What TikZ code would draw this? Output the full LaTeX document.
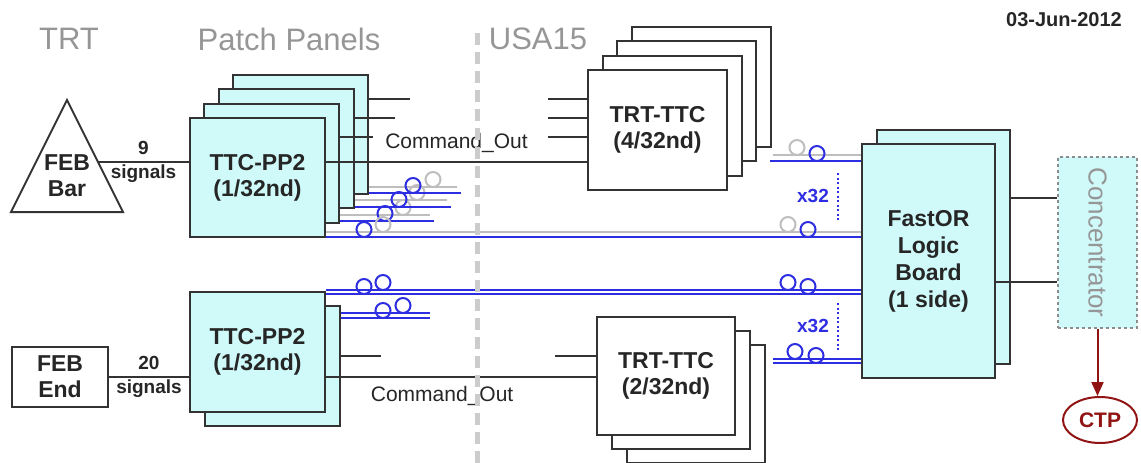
\documentclass[tikz,border=0pt]{standalone}
\usepackage{fontspec}
\setmainfont{Liberation Sans}
\usetikzlibrary{arrows.meta, calc, shapes.geometric}

\definecolor{panelcyan}{RGB}{208,250,250}
\definecolor{fibreblue}{RGB}{45,45,225}
\definecolor{fibregray}{RGB}{190,190,190}
\definecolor{headgray}{RGB}{150,150,150}
\definecolor{ctpred}{RGB}{145,20,20}

% a small fibre coil sitting on a fibre line
\newcommand{\coil}[3]{\draw[#1] (#2,#3-7.5) circle[radius=7.5];}

\begin{document}
\begin{tikzpicture}[x=1pt, y=-1pt,
		box/.style={draw=black!80, line width=2pt, inner sep=0pt, align=center, text=black!85,
			font=\fontsize{23}{26}\selectfont\bfseries},
		ppbox/.style={box, fill=panelcyan},
		ttcbox/.style={box, fill=white},
		wire/.style={black!80, line width=2pt},
		fibreb/.style={fibreblue, line width=2pt},
		fibreg/.style={fibregray, line width=2pt},
		heading/.style={text=headgray, font=\fontsize{31}{34}\selectfont},
		cmd/.style={text=black!85, font=\fontsize{21}{24}\selectfont},
		sig/.style={align=center, text=black!85, font=\fontsize{19}{24}\selectfont\bfseries},
		count/.style={text=fibreblue, font=\fontsize{19}{22}\selectfont\bfseries},
		countline/.style={fibreblue, line width=2pt, dash pattern=on 2pt off 2.5pt},
		sepline/.style={black!20, line width=5pt, dash pattern=on 12pt off 7pt}
		]
		\useasboundingbox (0,0) rectangle (1141,463);
		
		% ==========================================
		% 1. HEADINGS
		% ==========================================
		\node[heading] (trt) at (69,39) {TRT};
		\node[heading] (patch) at (289,39) {Patch Panels};
		\node[heading] (usa) at (538,39) {USA15};
		\node[text=black!85, font=\fontsize{20}{22}\selectfont\bfseries] (date) at (1064,20) {03-Jun-2012};
		
		% ==========================================
		% 2. UPPER CHAIN (FEB Bar)
		% ==========================================
		\draw[wire, fill=white] (67,100) -- (123,212) -- (11,212) -- cycle;
		\node[box, draw=none] (febbar) at (67,176) {FEB\\Bar};
		\coordinate (febbar-out) at (98,162);
		
		% patch panel stack, back boxes first
		\foreach \k in {3,2,1}
		\node[ppbox, minimum width=135pt, minimum height=119pt] (pp1-\k) at (257.5+14.3*\k,177.5-14.3*\k) {};
		\node[ppbox, minimum width=135pt, minimum height=119pt] (pp1) at (257.5,177.5) {TTC-PP2\\(1/32nd)};
		
		% TRT-TTC stack in USA15
		\foreach \k in {3,2,1}
		\node[ttcbox, minimum width=139pt, minimum height=120pt] (ttc1-\k) at (657.5+14.5*\k,130-14.5*\k) {};
		\node[ttcbox, minimum width=139pt, minimum height=120pt] (ttc1) at (657.5,130) {TRT-TTC\\(4/32nd)};
		
		% ==========================================
		% 3. LOWER CHAIN (FEB End)
		% ==========================================
		\node[ttcbox, minimum width=96pt, minimum height=60pt] (febend) at (60,377) {FEB\\End};
		
		\node[ppbox, minimum width=135pt, minimum height=120pt] (pp2-1) at (272.5,366) {};
		\node[ppbox, minimum width=135pt, minimum height=120pt] (pp2) at (257.5,352) {TTC-PP2\\(1/32nd)};
		
		\foreach \k in {2,1}
		\node[ttcbox, minimum width=138pt, minimum height=118pt] (ttc2-\k) at (666+15*\k,376+14*\k) {};
		\node[ttcbox, minimum width=138pt, minimum height=118pt] (ttc2) at (666,376) {TRT-TTC\\(2/32nd)};
		
		% ==========================================
		% 4. FASTOR BOARD, CONCENTRATOR, CTP
		% ==========================================
		\node[ppbox, minimum width=133pt, minimum height=234pt] (fastor-1) at (943.5,247) {};
		\node[ppbox, minimum width=133pt, minimum height=234pt, font=\fontsize{23}{27}\selectfont\bfseries]
		(fastor) at (928.5,261) {FastOR\\Logic\\Board\\(1 side)};
		
		\node[fill=panelcyan, draw=black!45, line width=2pt, dash pattern=on 3pt off 3pt,
		minimum width=79pt, minimum height=171pt] (conc) at (1097.5,242.5) {};
		\node[rotate=-90, text=headgray, font=\fontsize{26}{28}\selectfont] (conc-text) at (conc) {Concentrator};
		
		\node[ellipse, draw=ctpred, fill=white, line width=2pt, minimum width=74pt, minimum height=46pt,
		text=ctpred, font=\fontsize{21}{22}\selectfont\bfseries] (ctp) at (1100,420) {CTP};
		
		% ==========================================
		% 5. ELECTRICAL LINKS
		% ==========================================
		\draw[wire] (febbar-out) -- (pp1.west |- febbar-out) node[midway, sig] {9\\signals};
		\foreach \k/\yy/\xe in {1/137/373, 2/118/395, 3/99/410}
		\draw[wire] (pp1-\k.east |- 0,\yy) -- (\xe,\yy);
		\foreach \yy in {99,118,137}
		\draw[wire] (548,\yy) -- (ttc1.west |- 0,\yy);
		\draw[wire] (pp1.east |- febbar-out) -- (ttc1.west |- febbar-out)
		node[midway, above=5pt, cmd] {Command\_Out};
		
		\draw[wire] (febend.east) -- (pp2.west |- febend.east) node[midway, sig] {20\\signals};
		\draw[wire] (pp2-1.east |- 0,356) -- (381,356);
		\draw[wire] (555,356) -- (ttc2.west |- 0,356);
		\draw[wire] (pp2.east |- febend.east) -- (ttc2.west |- febend.east)
		node[pos=0.43, below=5pt, cmd] {Command\_Out};
		
		\draw[wire] (fastor-1.east |- 0,198) -- (conc.west |- 0,198);
		\draw[wire] (fastor.east |- 0,282) -- (conc.west |- 0,282);
		\draw[ctpred, line width=2pt, -{Triangle[width=12pt,length=14pt]}] (conc.south) -- (conc.south |- ctp.north);
		
		% ==========================================
		% 6. OPTICAL FIBRES
		% ==========================================
		% short fibres of the back patch panels
		\foreach \k/\yg/\yb/\xe/\cb/\cg in {1/215/221/430/385/403, 2/200/207/447/399/417, 3/187/193/457/413/433} {
			\draw[fibreg] (pp1-\k.east |- 0,\yg) -- (\xe,\yg);
			\draw[fibreb] (pp1-\k.east |- 0,\yb) -- (\xe+4,\yb);
			\coil{fibreb}{\cb}{\yb}
			\coil{fibreg}{\cg}{\yg}
		}
		% long fibres to the FastOR board
		\draw[fibreg] (pp1.east |- 0,232) -- (fastor.west |- 0,232);
		\draw[fibreb] (pp1.east |- 0,237) -- (fastor.west |- 0,237);
		\coil{fibreb}{364}{237} \coil{fibreg}{383}{232}
		\coil{fibreg}{788}{232} \coil{fibreb}{808}{237}
		
		\draw[fibreg] (773,155) -- (fastor.west |- 0,155);
		\draw[fibreb] (770,161) -- (fastor.west |- 0,161);
		\coil{fibreg}{797}{155} \coil{fibreb}{817}{161}
		\node[count] (x32-top) at (813,196) {x32};
		\draw[countline] (838,173) -- (838,222);
		
		% lower fibres
		\foreach \yy in {290,294}
		\draw[fibreb] (pp2.east |- 0,\yy) -- (fastor.west |- 0,\yy);
		\coil{fibreb}{364}{294} \coil{fibreb}{383}{290}
		\coil{fibreb}{788}{290} \coil{fibreb}{808}{294}
		
		\foreach \yy in {313,318}
		\draw[fibreb] (pp2-1.east |- 0,\yy) -- (430,\yy);
		\coil{fibreb}{383}{318} \coil{fibreb}{403}{313}
		
		\foreach \yy in {359,363}
		\draw[fibreb] (773,\yy) -- (fastor.west |- 0,\yy);
		\coil{fibreb}{795}{359} \coil{fibreb}{816}{363}
		\node[count] (x32-bot) at (813,326) {x32};
		\draw[countline] (838,303) -- (838,352);
		
		% surface / underground boundary
		\draw[sepline] (477,33) -- (477,463);
		
\end{tikzpicture}
\end{document}
